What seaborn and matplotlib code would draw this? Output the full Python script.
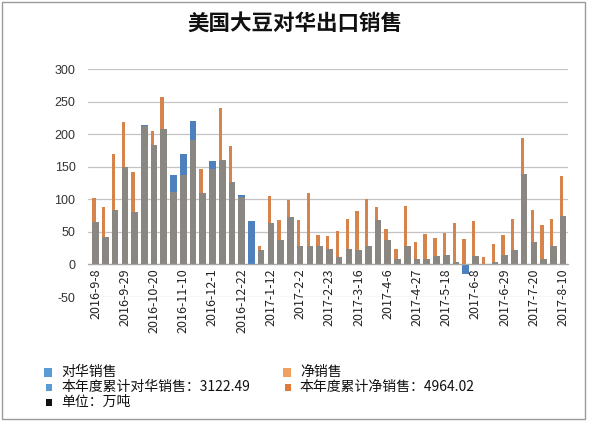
import numpy as np
import pandas as pd
import matplotlib
matplotlib.use("Agg")
import matplotlib.pyplot as plt
import seaborn as sns
from matplotlib.patches import Rectangle

weeks = ["2016-9-8", "2016-9-15", "2016-9-22", "2016-9-29", "2016-10-6", "2016-10-13",
         "2016-10-20", "2016-10-27", "2016-11-3", "2016-11-10", "2016-11-17", "2016-11-24",
         "2016-12-1", "2016-12-8", "2016-12-15", "2016-12-22", "2016-12-29", "2017-1-5",
         "2017-1-12", "2017-1-19", "2017-1-26", "2017-2-2", "2017-2-9", "2017-2-16",
         "2017-2-23", "2017-3-2", "2017-3-9", "2017-3-16", "2017-3-23", "2017-3-30",
         "2017-4-6", "2017-4-13", "2017-4-20", "2017-4-27", "2017-5-4", "2017-5-11",
         "2017-5-18", "2017-5-25", "2017-6-1", "2017-6-8", "2017-6-15", "2017-6-22",
         "2017-6-29", "2017-7-6", "2017-7-13", "2017-7-20", "2017-7-27", "2017-8-3",
         "2017-8-10"]

china_sales = [65, 42, 84, 150, 81, 214, 184, 208, 138, 170, 220, 109,
               159, 160, 126, 106, 66, 22, 64, 37, 73, 28, 28, 29,
               23, 11, 24, 22, 29, 68, 37, 9, 29, 9, 9, 13,
               15, 4, -14, 13, 1, 3, 15, 22, 139, 35, 9, 29, 75]

net_sales = [102, 88, 169, 218, 142, 212, 205, 257, 111, 137, 191, 147,
             146, 240, 182, 103, 0, 29, 105, 68, 99, 68, 110, 45,
             43, 52, 70, 82, 100, 88, 54, 23, 89, 34, 46, 41,
             48, 63, 39, 66, 12, 32, 45, 69, 194, 84, 60, 69, 136]

tick_labels = weeks[::3]
y_ticks = [-50, 0, 50, 100, 150, 200, 250, 300]

title = "美国大豆对华出口销售"
legend_rows = [
    [("对华销售", "#5B9BD5", 1), ("净销售", "#F0A060", 1)],
    [("本年度累计对华销售：3122.49", "#5B9BD5", 0), ("本年度累计净销售：4964.02", "#E07B39", 0)],
    [("单位：万吨", "#111111", 0)],
]

blue = "#4F80BE"
orange = "#D6844C"
grey = "#8A8682"

china_arr = np.array(china_sales, dtype=float)
net_arr = np.array(net_sales, dtype=float)
overlap = np.where((china_arr > 0) & (net_arr > 0), np.minimum(china_arr, net_arr), 0)

df = pd.DataFrame({"week": pd.Categorical(weeks, categories=weeks, ordered=True),
                   "china": china_arr, "net": net_arr, "overlap": overlap})

sns.set_style("white")
plt.rcParams["font.family"] = ["Noto Sans CJK SC", "DejaVu Sans"]

W, H = 589, 421
fig = plt.figure(figsize=(W / 100, H / 100), dpi=100)
ax = fig.add_axes([88 / W, (H - 297) / H, (568 - 88) / W, (297 - 69) / H])

def bars(col, color, width, shift):
    n0 = len(ax.patches)
    sns.barplot(data=df, x="week", y=col, color=color, width=width, saturation=1,
                errorbar=None, ax=ax, linewidth=0, order=weeks)
    for p in ax.patches[n0:]:
        p.set_x(p.get_x() + shift)

bars("china", blue, 0.68, 0.0)
bars("net", orange, 0.34, -0.17)
bars("overlap", grey, 0.68, 0.0)

ax.set_ylim(-50, 300)
ax.set_xlim(-0.78, 48.3)
ax.set_yticks(y_ticks)
ax.set_yticklabels([str(v) for v in y_ticks])
for t in ax.get_yticklabels():
    t.set_family("Liberation Sans")
    t.set_fontsize(9)
    t.set_color("#333333")
ax.yaxis.grid(True, color="#C4C4C4", linewidth=0.9)
ax.set_axisbelow(True)
ax.tick_params(axis="y", length=0, pad=9)

ax.set_xticks(range(0, len(weeks), 3))
ax.set_xticks(np.arange(-0.5, len(weeks), 1), minor=True)
ax.set_xticklabels(tick_labels)
ax.tick_params(axis="x", which="major", length=0, pad=3, labelrotation=90,
               labelsize=9, labelcolor="#222222")
ax.tick_params(axis="x", which="minor", length=3, color="#A0A0A0", direction="out")
for t in ax.get_xticklabels():
    t.set_family("Liberation Sans")
ax.set_xlabel("")
ax.set_ylabel("")

for s in ["top", "right", "left"]:
    ax.spines[s].set_visible(False)
ax.spines["bottom"].set_position(("data", 0))
ax.spines["bottom"].set_color("#A8A8A8")
ax.spines["bottom"].set_linewidth(0.9)

fig.text(295 / W, 1 - 23 / H, title, ha="center", va="center", fontsize=15.5,
         fontweight="bold", color="#111111")

row_y = [372, 387, 402]
col_x = [44, 283]
for r, row in enumerate(legend_rows):
    for c, (txt, col, big) in enumerate(row):
        x0 = col_x[c] + (0 if big else 2)
        y = row_y[r]
        sw, sh = (8, 9) if big else (6, 7)
        fig.patches.append(Rectangle((x0 / W, 1 - (y + sh / 2) / H), sw / W, sh / H,
                                     transform=fig.transFigure, facecolor=col,
                                     edgecolor="none"))
        fig.text((col_x[c] + 17) / W, 1 - y / H, txt, ha="left", va="center",
                 fontsize=10, color="#111111")

fig.patches.append(Rectangle((2 / W, 2 / H), (585 - 2) / W, (H - 4) / H,
                             transform=fig.transFigure, facecolor="none",
                             edgecolor="#9A9A9A", linewidth=1))

fig.savefig("out.png", dpi=100)
